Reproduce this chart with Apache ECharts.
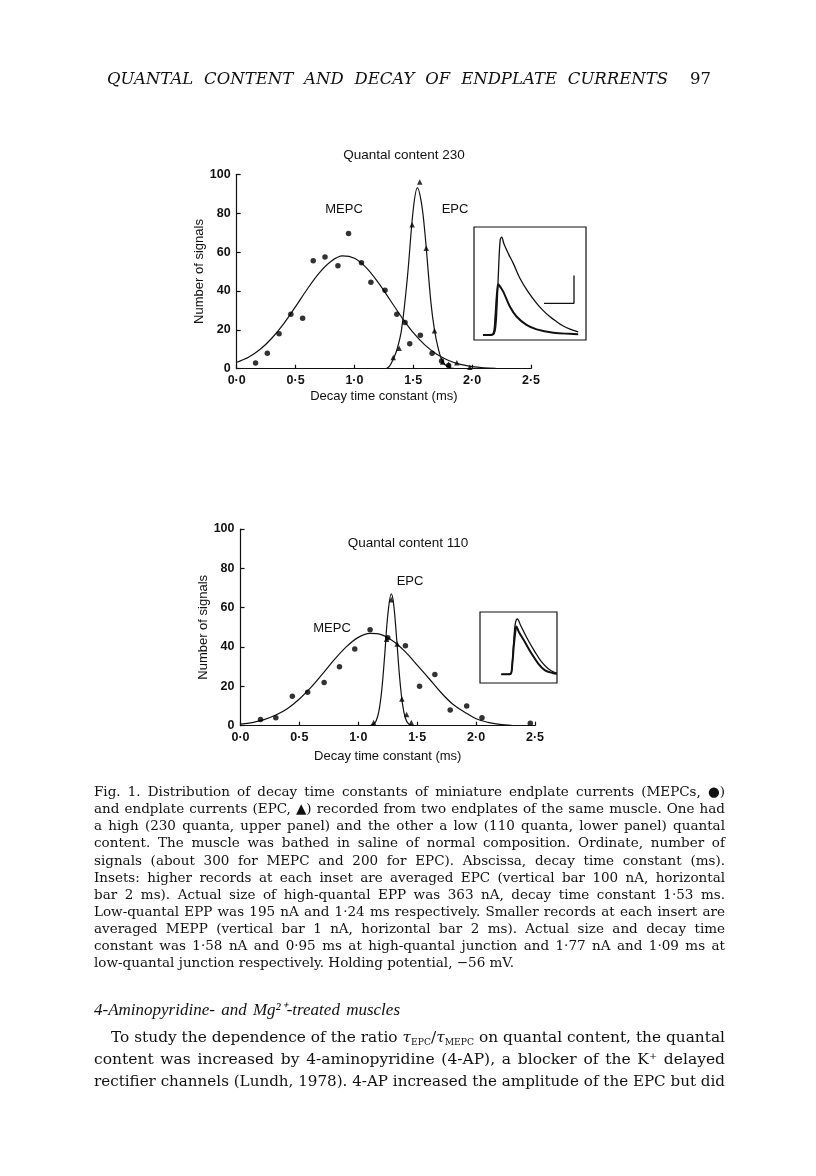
<!DOCTYPE html>
<html><head><meta charset="utf-8">
<script src="https://cdn.jsdelivr.net/npm/echarts@6/dist/echarts.min.js"></script>
<style>
html,body{margin:0;padding:0;background:#fff;}
#page{position:relative;width:816px;height:1176px;overflow:hidden;background:#fff;}
#chart{position:absolute;left:0;top:0;width:816px;height:1176px;}
.ln{position:absolute;white-space:nowrap;display:inline-block;transform-origin:0 50%;color:#111;font-family:"DejaVu Serif",serif;}
.cap{font-size:13.5px;line-height:17px;}
.body{font-size:15.5px;line-height:21px;}
.hdr{font-size:16.5px;line-height:20px;font-style:italic;}
.head{font-family:"Liberation Serif",serif;font-size:17px;line-height:21px;font-style:italic;}
sub{font-size:0.6em;vertical-align:-0.3em;line-height:0;}
</style></head>
<body><div id="page"><div id="chart"></div><div id="txt"></div></div>
<script>
// ---------------- DATA ----------------
const xTickLabels = ['0·0','0·5','1·0','1·5','2·0','2·5'];
const yTicks = [0,20,40,60,80,100];

// Upper panel (quantal content 230)
const upperMepcX = [0.16,0.26,0.36,0.46,0.56,0.65,0.75,0.86,0.95,1.06,1.14,1.26,1.36,1.43,1.47,1.56,1.66,1.74,1.80];
const upperMepcY = [2.9,7.9,18,28,26,55.5,57.5,53,69.5,54.5,44.5,40.3,28,23.8,12.8,17.2,7.9,4,1.6];
const upperEpcX = [1.33,1.38,1.49,1.555,1.61,1.68,1.75,1.80,1.87,1.98];
const upperEpcY = [5.7,10.5,74,96,62,19.5,3.5,2.3,3,0.8];
const upperMepcCurveX = [0,0.1,0.2,0.3,0.4,0.5,0.6,0.7,0.8,0.9,1.0,1.1,1.2,1.3,1.4,1.5,1.6,1.7,1.8,1.9,2.0,2.1,2.2];
const upperMepcCurveY = [3.3,5.9,10,15.8,23.2,31.9,41,49.2,55.2,58,56.8,52,44.5,35.6,26.6,18.5,12.1,7.4,4.2,2.2,1.1,0.5,0.2];
const upperEpcCurveX = [1.27,1.30,1.33,1.36,1.40,1.45,1.50,1.535,1.57,1.60,1.65,1.68,1.71,1.75,1.80,1.85];
const upperEpcCurveY = [0,1.5,5,9.5,20,47,82,93,85,69,34,20,11,3.5,0.7,0];

// Lower panel (quantal content 110)
const lowerMepcX = [0.17,0.30,0.44,0.57,0.71,0.84,0.97,1.10,1.25,1.40,1.52,1.65,1.78,1.92,2.05,2.46];
const lowerMepcY = [3.1,4.1,15,17,22,30,39,48.8,44.7,40.7,20,26,8,10,4,1.2];
const lowerEpcX = [1.13,1.24,1.28,1.33,1.37,1.41,1.45];
const lowerEpcY = [1.6,44,64,41.5,13.6,5.7,1.6];
const lowerMepcCurveX = [0,0.1,0.2,0.3,0.4,0.5,0.6,0.7,0.8,0.9,1.0,1.1,1.2,1.3,1.4,1.5,1.6,1.7,1.8,1.9,2.0,2.1,2.2,2.3];
const lowerMepcCurveY = [0.8,1.6,3.1,5.4,8.8,13.6,19.6,26.6,33.8,40.2,44.9,46.9,46.2,42.8,37.5,30.8,24,17,11,7,3.5,1.7,0.7,0.2];
const lowerEpcCurveX = [1.10,1.125,1.15,1.175,1.20,1.225,1.25,1.28,1.30,1.325,1.35,1.375,1.40,1.425,1.45,1.475];
const lowerEpcCurveY = [0,0.6,2.3,7.4,18.6,36.6,56,67,61.8,44.7,25.1,11.1,3.8,1.0,0.2,0];

// Insets: averaged records (time ms; EPC in nA, MEPP in nA)
const upperEpcTraceT = [0.6,1.0,1.3,1.45,1.55,1.65,1.75,1.85,2.0,2.3,2.62,3.07,3.6,4.18,4.6,5.07,5.5,5.95,6.4,6.95];
const upperEpcTrace  = [0,0,2,30,120,250,340,350,325,290,256,202,155,113,88,65,48,32,21,11];
const upperMeppTraceT = [0.6,1.0,1.3,1.42,1.52,1.62,1.75,1.95,2.4,2.85,3.5,4.18,5.3,6.4,6.95];
const upperMeppTrace  = [0,0,0.05,0.6,1.4,1.81,1.72,1.55,1.01,0.65,0.36,0.2,0.08,0.04,0.03];
const lowerEpcTraceT = [1.42,1.8,2.05,2.15,2.25,2.35,2.49,2.7,3.2,3.65,4.09,4.53,4.98,5.13];
const lowerEpcTrace  = [0,0,2,40,120,180,197,175,122,81,45,21,6,4];
const lowerMeppTraceT = [1.42,1.8,2.05,2.15,2.25,2.35,2.42,2.6,2.98,3.42,3.87,4.31,4.87,5.13];
const lowerMeppTrace  = [0,0,0.02,0.35,1.0,1.5,1.70,1.5,1.16,0.75,0.39,0.15,0.04,0.02];
// scale bars (vertical bar 100 nA EPC / 1 nA MEPP, horizontal bar 2 ms)
const barEpcNa = 100, barMeppNa = 1, barMs = 2;
const barAnchor = [6.67, 113];

// ---------------- CHART ----------------
const zip = (xs, ys, k) => xs.map((x, i) => [x, ys[i] * (k || 1)]);
const SANS = '"Liberation Sans", Arial, sans-serif';
const ink = '#111';

function mainX(g, gap) {
  return {gridIndex:g, type:'value', min:0, max:2.5, interval:0.5,
    axisLine:{lineStyle:{color:ink, width:1.2}},
    axisTick:{inside:true, length:4, lineStyle:{color:ink, width:1.2}},
    splitLine:{show:false},
    axisLabel:{color:ink, fontFamily:SANS, fontWeight:'bold', fontSize:12.5, margin:5,
      formatter: v => xTickLabels[Math.round(v / 0.5)]},
    name:'Decay time constant (ms)', nameLocation:'middle', nameGap:gap,
    nameTextStyle:{color:ink, fontFamily:SANS, fontSize:13}};
}
function mainY(g) {
  return {gridIndex:g, type:'value', min:yTicks[0], max:yTicks[yTicks.length-1], interval:20,
    axisLine:{show:true, lineStyle:{color:ink, width:1.2}},
    axisTick:{show:true, inside:true, length:4, lineStyle:{color:ink, width:1.2}},
    splitLine:{show:false},
    axisLabel:{color:ink, fontFamily:SANS, fontWeight:'bold', fontSize:12.5, margin:6},
    name:'Number of signals', nameLocation:'middle', nameGap:30, nameRotate:90,
    nameTextStyle:{color:ink, fontFamily:SANS, fontSize:13}};
}
function hid(g, mn, mx) { return {gridIndex:g, type:'value', min:mn, max:mx, show:false}; }
const lineS = (xi, data, w) => ({type:'line', xAxisIndex:xi, yAxisIndex:xi, data, smooth:0.35,
  symbol:'none', lineStyle:{color:ink, width:w || 1.2}, z:2, silent:true});
const dotS = (xi, data, sym, size) => ({type:'scatter', xAxisIndex:xi, yAxisIndex:xi, data,
  symbol:sym, symbolSize:size, itemStyle:{color:'#000'}, z:4, silent:true});
const barS = (xi) => ({type:'line', xAxisIndex:xi, yAxisIndex:xi, symbol:'none',
  lineStyle:{color:ink, width:1.3}, z:3,
  data:[[barAnchor[0]-barMs, barAnchor[1]], [barAnchor[0], barAnchor[1]], [barAnchor[0], barAnchor[1]+barEpcNa]]});
const meppScale = barEpcNa / barMeppNa;

const option = {
  animation:false,
  grid:[
    {left:236.7, top:174.3, width:294.3, height:194.4},
    {left:474, top:227, width:112, height:113, show:true, borderColor:ink, borderWidth:1.2, backgroundColor:'rgba(0,0,0,0)'},
    {left:240.5, top:529, width:294.5, height:196.7},
    {left:480, top:612, width:77, height:71, show:true, borderColor:ink, borderWidth:1.2, backgroundColor:'rgba(0,0,0,0)'}
  ],
  xAxis:[mainX(0, 21), hid(1, 0, 7.47), mainX(2, 24), hid(3, 0, 5.13)],
  yAxis:[mainY(0), hid(1, -18, 386), mainY(2), hid(3, -31, 222)],
  series:[
    lineS(0, zip(upperMepcCurveX, upperMepcCurveY)),
    lineS(0, zip(upperEpcCurveX, upperEpcCurveY)),
    dotS(0, zip(upperMepcX, upperMepcY), 'circle', 5.5),
    dotS(0, zip(upperEpcX, upperEpcY), 'triangle', 5.5),
    lineS(1, zip(upperEpcTraceT, upperEpcTrace), 1.3),
    lineS(1, zip(upperMeppTraceT, upperMeppTrace, meppScale), 2),
    barS(1),
    lineS(2, zip(lowerMepcCurveX, lowerMepcCurveY)),
    lineS(2, zip(lowerEpcCurveX, lowerEpcCurveY)),
    dotS(2, zip(lowerMepcX, lowerMepcY), 'circle', 5.5),
    dotS(2, zip(lowerEpcX, lowerEpcY), 'triangle', 5.5),
    lineS(3, zip(lowerEpcTraceT, lowerEpcTrace), 1.3),
    lineS(3, zip(lowerMeppTraceT, lowerMeppTrace, meppScale), 2)
  ],
  graphic:[
    {type:'text', x:404, y:155, style:{text:'Quantal content 230', font:'13.5px ' + SANS, fill:ink, align:'center', verticalAlign:'middle'}},
    {type:'text', x:344, y:209.5, style:{text:'MEPC', font:'13px ' + SANS, fill:ink, align:'center', verticalAlign:'middle'}},
    {type:'text', x:455, y:209.5, style:{text:'EPC', font:'13px ' + SANS, fill:ink, align:'center', verticalAlign:'middle'}},
    {type:'text', x:408, y:543.5, style:{text:'Quantal content 110', font:'13.5px ' + SANS, fill:ink, align:'center', verticalAlign:'middle'}},
    {type:'text', x:410, y:581, style:{text:'EPC', font:'13px ' + SANS, fill:ink, align:'center', verticalAlign:'middle'}},
    {type:'text', x:332, y:628.5, style:{text:'MEPC', font:'13px ' + SANS, fill:ink, align:'center', verticalAlign:'middle'}}
  ]
};
const chart = echarts.init(document.getElementById('chart'), null, {renderer:'canvas'});
chart.setOption(option);

// ---------------- PAGE TEXT ----------------
const capLines = [
  'Fig. 1. Distribution of decay time constants of miniature endplate currents (MEPCs, ●)',
  'and endplate currents (EPC, ▲) recorded from two endplates of the same muscle. One had',
  'a high (230 quanta, upper panel) and the other a low (110 quanta, lower panel) quantal',
  'content. The muscle was bathed in saline of normal composition. Ordinate, number of',
  'signals (about 300 for MEPC and 200 for EPC). Abscissa, decay time constant (ms).',
  'Insets: higher records at each inset are averaged EPC (vertical bar 100 nA, horizontal',
  'bar 2 ms). Actual size of high-quantal EPP was 363 nA, decay time constant 1·53 ms.',
  'Low-quantal EPP was 195 nA and 1·24 ms respectively. Smaller records at each insert are',
  'averaged MEPP (vertical bar 1 nA, horizontal bar 2 ms). Actual size and decay time',
  'constant was 1·58 nA and 0·95 ms at high-quantal junction and 1·77 nA and 1·09 ms at',
  'low-quantal junction respectively. Holding potential, −56 mV.'
];
const txt = document.getElementById('txt');
function addLine(html, cls, left, cy, w, lh, extra) {
  const d = document.createElement('div');
  d.className = 'ln ' + cls;
  d.innerHTML = html;
  d.style.left = left + 'px';
  d.style.top = (cy - lh * 0.58) + 'px';
  if (extra) d.style.cssText += extra;
  d.dataset.w = w;
  txt.appendChild(d);
}
addLine('QUANTAL CONTENT AND DECAY OF ENDPLATE CURRENTS', 'hdr', 107, 81, 561, 20);
addLine('97', 'hdr', 690, 81, 0, 20, 'font-style:normal;');
capLines.forEach((t, i) => addLine(t, 'cap', 94, 793 + i * 17.1, i === capLines.length - 1 ? 0 : 631, 17));
addLine('4-Aminopyridine- and Mg²⁺-treated muscles', 'head', 94, 1011.5, 306, 21);
addLine('To study the dependence of the ratio <i>τ</i><sub>EPC</sub>/<i>τ</i><sub>MEPC</sub> on quantal content, the quantal', 'body', 111, 1039.5, 614, 21);
addLine('content was increased by 4-aminopyridine (4-AP), a blocker of the K⁺ delayed', 'body', 94, 1061.5, 631, 21);
addLine('rectifier channels (Lundh, 1978). 4-AP increased the amplitude of the EPC but did', 'body', 94, 1083, 631, 21);

function fit() {
  document.querySelectorAll('.ln').forEach(el => {
    el.style.transform = ''; el.style.wordSpacing = '0px';
    const target = +el.dataset.w;
    if (!target) return;
    const w = el.getBoundingClientRect().width;
    if (w > target) { el.style.transform = 'scaleX(' + (target / w) + ')'; }
    else {
      const n = (el.textContent.match(/ /g) || []).length;
      if (n) el.style.wordSpacing = ((target - w) / n) + 'px';
    }
  });
}
fit();
if (document.fonts && document.fonts.ready) document.fonts.ready.then(fit);
</script></body></html>
